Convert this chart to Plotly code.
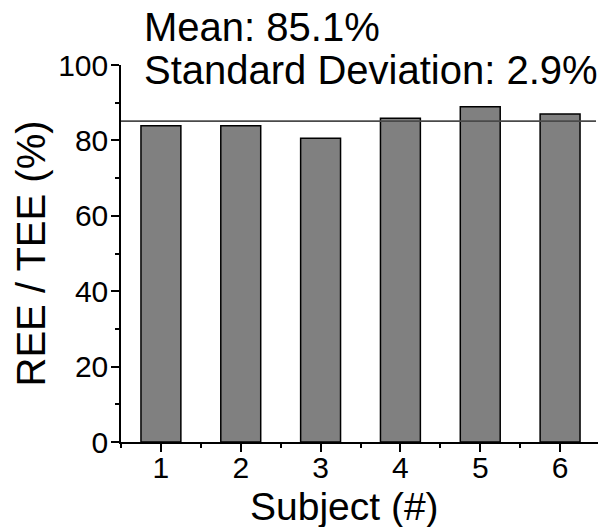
import plotly.graph_objects as go

subjects = [1, 2, 3, 4, 5, 6]
ree_tee = [83.9, 83.9, 80.6, 85.9, 88.9, 87.0]
mean_value = 85.1
sd_value = 2.9
y_ticks = [0, 20, 40, 60, 80, 100]

FONT = "Liberation Sans, Arial, sans-serif"

fig = go.Figure()
fig.add_trace(go.Bar(
    x=subjects, y=ree_tee, width=0.5,
    marker=dict(color="#808080", line=dict(color="black", width=1.5)),
))

fig.add_shape(type="line", xref="x", yref="y", x0=0.5, x1=6.45,
              y0=mean_value, y1=mean_value,
              line=dict(color="#4a4a4a", width=1.6))

fig.add_annotation(text=f"Mean: {mean_value}%", xref="paper", yref="paper",
                   x=0.044, y=1.10, xanchor="left", yanchor="middle",
                   showarrow=False, font=dict(size=40, color="black", family=FONT))
fig.add_annotation(text=f"Standard Deviation: {sd_value}%", xref="paper", yref="paper",
                   x=0.044, y=0.988, xanchor="left", yanchor="middle",
                   showarrow=False, font=dict(size=40, color="black", family=FONT))

fig.add_annotation(text="Subject (#)", xref="paper", yref="paper",
                   x=0.4676, y=-0.108, xanchor="center", yanchor="top",
                   showarrow=False, font=dict(size=39, color="black", family=FONT))
fig.add_annotation(text="REE / TEE (%)", xref="paper", yref="paper",
                   x=-0.188, y=0.5, xanchor="center", yanchor="middle", textangle=-90,
                   showarrow=False, font=dict(size=40, color="black", family=FONT))

fig.update_xaxes(range=[0.5, 6.5], tickvals=subjects, ticks="outside", ticklen=8,
                 tickwidth=1.5, tickcolor="black", showline=True, linecolor="black",
                 linewidth=1.5, showgrid=False, zeroline=False, ticklabelstandoff=-10,
                 tickfont=dict(size=30, color="black", family=FONT),
                 minor=dict(tick0=0.5, dtick=1, ticks="outside", ticklen=4,
                            tickwidth=1.5, tickcolor="black", showgrid=False))
fig.update_yaxes(range=[0, 100], tickvals=y_ticks, ticks="outside", ticklen=8,
                 tickwidth=1.5, tickcolor="black", showline=True, linecolor="black",
                 linewidth=1.5, showgrid=False, zeroline=False, ticklabelstandoff=-3,
                 tickfont=dict(size=30, color="black", family=FONT),
                 minor=dict(tick0=0, dtick=10, ticks="outside", ticklen=4,
                            tickwidth=1.5, tickcolor="black", showgrid=False))

# page body has an 8px margin; size the figure so the visible window matches
fig.update_layout(width=598, height=519, margin=dict(l=113, r=6, t=57, b=85),
                  plot_bgcolor="white", paper_bgcolor="white", showlegend=False,
                  font=dict(family=FONT, color="black"))

fig.write_html("out.html")
